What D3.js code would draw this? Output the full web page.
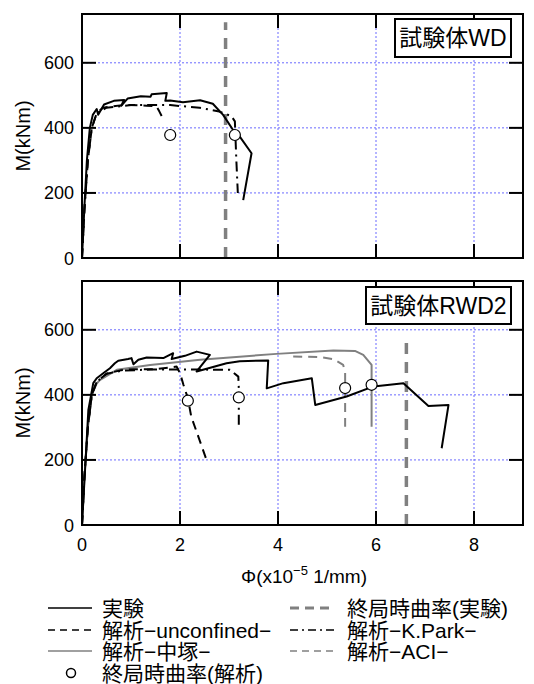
<!DOCTYPE html>
<html>
<head>
<meta charset="utf-8">
<script src="https://cdn.jsdelivr.net/npm/d3@7"></script>
<style>
  body { margin: 0; background: #fff; }
  text { font-family: "Liberation Sans", Arial, "Noto Sans CJK JP", sans-serif; fill: #000; }
  .jp { font-family: "Liberation Sans", "Noto Sans CJK JP", sans-serif; }
</style>
</head>
<body>
<svg id="chart" width="534" height="684"></svg>
<script>
'use strict';

// 曲率 phi (x10^-5 1/mm) , モーメント M (kNm)
var xTicks = [0, 2, 4, 6, 8]
  , yTicks = [0, 200, 400, 600]
  , panelTitles = ['試験体WD', '試験体RWD2']
  ;

// --- 試験体WD ---
var wdExp = [[0,0],[0.05,160],[0.1,300],[0.16,400],[0.22,440],[0.3,458],[0.33,440],[0.45,472],[0.65,483],[0.86,486],[0.8,468],[0.93,490],[1.2,497],[1.4,496],[1.42,503],[1.73,507],[1.7,483],[1.8,484],[2.06,479],[2.41,485],[2.67,474],[2.88,440],[3.08,394],[3.22,373],[3.46,322],[3.29,178]];
var wdUnconf = [[0,0],[0.05,150],[0.12,300],[0.2,400],[0.3,445],[0.43,462],[0.88,471],[1.32,468],[1.52,466],[1.58,450],[1.63,435]];
var wdPark = [[0,0],[0.05,150],[0.12,300],[0.2,400],[0.3,445],[0.5,462],[1.0,470],[1.8,470],[2.4,462],[2.8,450],[3.05,436],[3.12,420],[3.15,300],[3.18,200]];
var wdUltExp = 2.93;
var wdUltAna = [[1.8,378],[3.12,378]];

// --- 試験体RWD2 ---
var rwdExp = [[0,0],[0.13,354],[0.23,436],[0.3,451],[0.44,467],[0.57,482],[0.67,497],[0.74,505],[0.94,510],[1.01,513],[1.05,494],[1.15,508],[1.32,515],[1.66,513],[1.86,528],[1.83,510],[2.1,520],[2.34,533],[2.61,523],[2.34,472],[2.95,497],[3.22,503],[3.8,506],[3.77,420],[4.11,436],[4.69,451],[4.76,369],[5.4,395],[5.95,426],[6.56,436],[7.07,366],[7.48,369],[7.34,236]];
var rwdUnconf = [[0,0],[0.05,150],[0.12,300],[0.2,400],[0.3,440],[0.5,465],[0.8,476],[1.05,479],[1.5,479],[1.93,487],[2.0,467],[2.07,431],[2.16,390],[2.23,333],[2.53,205]];
var rwdPark = [[0,0],[0.05,150],[0.12,300],[0.2,400],[0.3,440],[0.5,465],[0.8,474],[1.4,478],[2.2,478],[3.02,477],[3.19,456],[3.2,420],[3.2,297]];
var rwdNaka = [[0,0],[0.05,150],[0.12,300],[0.2,400],[0.3,435],[0.37,446],[0.71,477],[1.39,492],[2.41,508],[3.97,526],[5.13,536],[5.57,535],[5.74,523],[5.91,492],[5.91,302]];
var rwdAci = [[4.31,518],[4.86,516],[5.13,510],[5.33,492],[5.37,470],[5.37,302]];
var rwdUltExp = 6.62;
var rwdUltAna = [[2.16,382],[3.2,392],[5.37,421],[5.91,431]];

var legendLabels = ['実験', '終局時曲率(実験)', '解析−unconfined−', '解析−K.Park−', '解析−中塚−', '解析−ACI−', '終局時曲率(解析)'];

var styles = {
  exp:    {stroke: '#000', width: 2, dash: null},
  unconf: {stroke: '#000', width: 2, dash: '9,6'},
  park:   {stroke: '#000', width: 2, dash: '10,5,2,5'},
  naka:   {stroke: '#808080', width: 2, dash: null},
  aci:    {stroke: '#808080', width: 2, dash: '9,6'},
  ult:    {stroke: '#808080', width: 3.5, dash: '11,8'}
};

var svg = d3.select('#chart');

var x = d3.scaleLinear().domain([0, 9]).range([82, 523]);

var panels = [
  {top: 14, bottom: 258, title: panelTitles[0], box: [395, 19, 38], series: [[wdUnconf,'unconf'],[wdPark,'park'],[wdExp,'exp']], ult: wdUltExp, circles: wdUltAna},
  {top: 281, bottom: 525, title: panelTitles[1], box: [366, 287, 37], series: [[rwdAci,'aci'],[rwdNaka,'naka'],[rwdUnconf,'unconf'],[rwdPark,'park'],[rwdExp,'exp']], ult: rwdUltExp, circles: rwdUltAna}
];

panels.forEach(function (p, pi) {
  var y = d3.scaleLinear().domain([0, 750]).range([p.bottom, p.top]);
  var g = svg.append('g');

  var clipId = 'clip' + pi;
  g.append('clipPath').attr('id', clipId)
    .append('rect').attr('x', x(0)).attr('y', y(750)).attr('width', x(9) - x(0)).attr('height', y(0) - y(750));

  // grid
  g.selectAll('.gx').data(xTicks.slice(1)).enter().append('line')
      .attr('x1', function (d) { return x(d); }).attr('x2', function (d) { return x(d); })
      .attr('y1', y(0)).attr('y2', y(750))
      .attr('stroke', '#6a6aff').attr('stroke-width', 1).attr('stroke-dasharray', '2,2');
  g.selectAll('.gy').data(yTicks.slice(1)).enter().append('line')
      .attr('x1', x(0)).attr('x2', x(9))
      .attr('y1', function (d) { return y(d); }).attr('y2', function (d) { return y(d); })
      .attr('stroke', '#6a6aff').attr('stroke-width', 1).attr('stroke-dasharray', '2,2');

  var line = d3.line().x(function (d) { return x(d[0]); }).y(function (d) { return y(d[1]); });
  var plot = g.append('g').attr('clip-path', 'url(#' + clipId + ')');

  // ultimate curvature (experiment)
  plot.append('line')
      .attr('x1', x(p.ult)).attr('x2', x(p.ult))
      .attr('y1', y(0)).attr('y2', y(pi === 0 ? 725 : 575))
      .attr('stroke', styles.ult.stroke).attr('stroke-width', styles.ult.width)
      .attr('stroke-dasharray', styles.ult.dash);

  p.series.forEach(function (s) {
    var st = styles[s[1]];
    plot.append('path').datum(s[0])
        .attr('d', line).attr('fill', 'none')
        .attr('stroke', st.stroke).attr('stroke-width', st.width)
        .attr('stroke-dasharray', st.dash)
        .attr('stroke-linejoin', 'round');
  });

  plot.selectAll('.c').data(p.circles).enter().append('circle')
      .attr('cx', function (d) { return x(d[0]); }).attr('cy', function (d) { return y(d[1]); })
      .attr('r', 5.5).attr('fill', '#fff').attr('stroke', '#000').attr('stroke-width', 1.2);

  // ticks (inside, all four sides)
  var tl = 14;
  yTicks.slice(1).forEach(function (t) {
    g.append('line').attr('x1', x(0)).attr('x2', x(0) + tl).attr('y1', y(t)).attr('y2', y(t)).attr('stroke', '#000').attr('stroke-width', 2);
    g.append('line').attr('x1', x(9)).attr('x2', x(9) - tl).attr('y1', y(t)).attr('y2', y(t)).attr('stroke', '#000').attr('stroke-width', 2);
  });
  xTicks.slice(1).forEach(function (t) {
    g.append('line').attr('x1', x(t)).attr('x2', x(t)).attr('y1', y(0)).attr('y2', y(0) - tl).attr('stroke', '#000').attr('stroke-width', 2);
    g.append('line').attr('x1', x(t)).attr('x2', x(t)).attr('y1', y(750)).attr('y2', y(750) + tl).attr('stroke', '#000').attr('stroke-width', 2);
  });

  // frame
  g.append('rect').attr('x', x(0)).attr('y', y(750)).attr('width', x(9) - x(0)).attr('height', y(0) - y(750))
      .attr('fill', 'none').attr('stroke', '#000').attr('stroke-width', 2);

  // y tick labels
  g.selectAll('.yl').data(yTicks).enter().append('text')
      .attr('x', 74).attr('y', function (d) { return y(d) + 6.5; })
      .attr('text-anchor', 'end').attr('font-size', 18)
      .text(function (d) { return d; });

  g.append('text')
      .attr('transform', 'translate(30,' + ((p.top + p.bottom) / 2) + ') rotate(-90)')
      .attr('text-anchor', 'middle').attr('font-size', 20)
      .text('M(kNm)');

  // title box
  var bx = p.box[0], by = p.box[1], bh = p.box[2];
  g.append('rect')
      .attr('x', bx).attr('y', by).attr('width', 511 - bx).attr('height', bh)
      .attr('fill', '#fff').attr('stroke', '#000').attr('stroke-width', 2);
  g.append('text').attr('class', 'jp')
      .attr('x', (bx + 511) / 2).attr('y', by + bh / 2 + 8).attr('font-size', 23).attr('text-anchor', 'middle')
      .text(p.title);
});

// x tick labels (bottom panel)
svg.selectAll('.xl').data(xTicks).enter().append('text')
    .attr('x', function (d) { return x(d); }).attr('y', 551)
    .attr('text-anchor', 'middle').attr('font-size', 18)
    .text(function (d) { return d; });

var xl = svg.append('text').attr('x', 304).attr('y', 583).attr('text-anchor', 'middle').attr('font-size', 19);
xl.append('tspan').text('Φ(x10');
xl.append('tspan').attr('dy', -8).attr('font-size', 13).text('−5');
xl.append('tspan').attr('dy', 8).text(' 1/mm)');

// legend
var legend = [
  {label: legendLabels[0], st: 'exp', col: 0, row: 0},
  {label: legendLabels[1], st: 'ult', col: 1, row: 0},
  {label: legendLabels[2], st: 'unconf', col: 0, row: 1},
  {label: legendLabels[3], st: 'park', col: 1, row: 1},
  {label: legendLabels[4], st: 'naka', col: 0, row: 2},
  {label: legendLabels[5], st: 'aci', col: 1, row: 2},
  {label: legendLabels[6], st: 'circle', col: 0, row: 3}
];
var colX = [[48, 92, 102], [290, 335, 347]]
  , rowY = [608, 630, 651, 673];

legend.forEach(function (d) {
  var c = colX[d.col], yy = rowY[d.row];
  if (d.st === 'circle') {
    svg.append('circle').attr('cx', 71).attr('cy', yy).attr('r', 4.5)
        .attr('fill', '#fff').attr('stroke', '#000').attr('stroke-width', 1.5);
  } else {
    var st = styles[d.st];
    svg.append('line').attr('x1', c[0]).attr('x2', c[1]).attr('y1', yy).attr('y2', yy)
        .attr('stroke', st.stroke).attr('stroke-width', d.st === 'ult' ? 3 : 1.5)
        .attr('stroke-dasharray', d.st === 'park' ? '8,4,2,4' : (d.st === 'ult' ? '9,6' : (st.dash ? '7,5' : null)));
  }
  svg.append('text').attr('class', 'jp').attr('x', c[2]).attr('y', yy + 7.5)
      .attr('font-size', 21).text(d.label);
});
</script>
</body>
</html>
